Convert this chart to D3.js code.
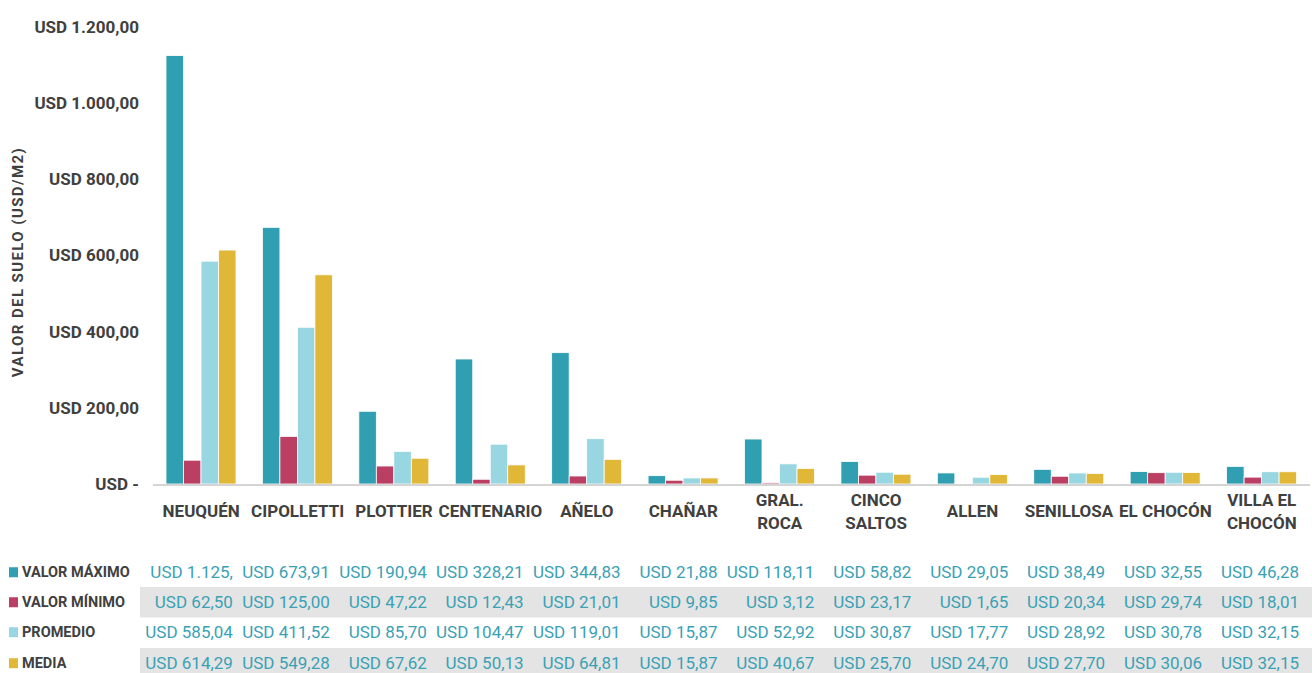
<!DOCTYPE html>
<html>
<head>
<meta charset="utf-8">
<script src="https://cdn.jsdelivr.net/npm/d3@7"></script>
<style>
  body { margin: 0; background: #fff; }
  svg { display: block; font-family: Roboto, "Open Sans", sans-serif; }
</style>
</head>
<body>
<div id="chart"></div>
<script>
// Data
const categories = ["NEUQUÉN", "CIPOLLETTI", "PLOTTIER", "CENTENARIO", "AÑELO", "CHAÑAR",
    "GRAL. ROCA", "CINCO SALTOS", "ALLEN", "SENILLOSA", "EL CHOCÓN", "VILLA EL CHOCÓN"];
const categoryLines = [["NEUQUÉN"], ["CIPOLLETTI"], ["PLOTTIER"], ["CENTENARIO"], ["AÑELO"], ["CHAÑAR"],
    ["GRAL.", "ROCA"], ["CINCO", "SALTOS"], ["ALLEN"], ["SENILLOSA"], ["EL CHOCÓN"], ["VILLA EL", "CHOCÓN"]];
const seriesNames = ["VALOR MÁXIMO", "VALOR MÍNIMO", "PROMEDIO", "MEDIA"];
const valorMaximo = [1125.00, 673.91, 190.94, 328.21, 344.83, 21.88, 118.11, 58.82, 29.05, 38.49, 32.55, 46.28];
const valorMinimo = [62.50, 125.00, 47.22, 12.43, 21.01, 9.85, 3.12, 23.17, 1.65, 20.34, 29.74, 18.01];
const promedio = [585.04, 411.52, 85.70, 104.47, 119.01, 15.87, 52.92, 30.87, 17.77, 28.92, 30.78, 32.15];
const media = [614.29, 549.28, 67.62, 50.13, 64.81, 15.87, 40.67, 25.70, 24.70, 27.70, 30.06, 32.15];
const yTicks = [0, 200, 400, 600, 800, 1000, 1200];
const colors = ["#2f9fb1", "#bb3e63", "#98d6e1", "#e1b737"];

const seriesValues = [valorMaximo, valorMinimo, promedio, media];

const W = 1312, H = 673;
const locale = d3.formatLocale({ decimal: ",", thousands: ".", grouping: [3], currency: ["USD ", ""] });
const fmt = locale.format("$,.2f");
const fmtTick = v => v === 0 ? "USD -" : fmt(v);

const svg = d3.select("#chart").append("svg")
    .attr("width", W)
    .attr("height", H);

// Scales
const x = d3.scaleBand().domain(categories).range([153, 1310]);
const x1 = d3.scaleBand().domain(seriesNames).range([13, 83]);
const y = d3.scaleLinear().domain([0, 1200]).range([484, 27]);
// table columns sit a bit off the plot bands
const xt = d3.scaleBand().domain(categories).range([136, 1299]);

// Y axis labels (no line)
const yAxis = svg.append("g")
    .attr("transform", "translate(139,0)")
    .call(d3.axisLeft(y).tickValues(yTicks).tickSize(0).tickPadding(0).tickFormat(fmtTick));
yAxis.select(".domain").remove();
yAxis.selectAll("text")
    .attr("fill", "#404040")
    .style("font-size", "17px")
    .style("font-weight", "bold")
    .style("font-family", "Roboto, sans-serif");

svg.append("text")
    .attr("transform", "translate(23,262) rotate(-90)")
    .attr("text-anchor", "middle")
    .attr("fill", "#404040")
    .style("font-size", "15px")
    .style("letter-spacing", "1.4px")
    .style("font-weight", "bold")
    .text("VALOR DEL SUELO (USD/M2)");

// Bars
const groups = svg.append("g").selectAll("g")
    .data(categories)
    .join("g")
    .attr("transform", d => `translate(${x(d)},0)`);

groups.selectAll("rect")
    .data((d, i) => seriesNames.map((s, j) => ({ s, j, v: seriesValues[j][i] })))
    .join("rect")
    .attr("x", d => x1(d.s))
    .attr("width", x1.bandwidth())
    .attr("y", d => y(d.v))
    .attr("height", d => y(0) - y(d.v))
    .attr("fill", d => colors[d.j])
    .attr("stroke", "#fff")
    .attr("stroke-width", 0.8);

// Baseline
svg.append("line")
    .attr("x1", 153).attr("x2", 1310)
    .attr("y1", y(0) + 1).attr("y2", y(0) + 1)
    .attr("stroke", "#d4d4d4")
    .attr("stroke-width", 2);

// Category labels
const xl = svg.append("g").selectAll("text")
    .data(categories)
    .join("text")
    .attr("x", d => x(d) + x.bandwidth() / 2)
    .attr("text-anchor", "middle")
    .attr("fill", "#404040")
    .style("font-size", "17px")
    .style("font-weight", "bold");
xl.each(function (d, i) {
    const lines = categoryLines[i];
    const start = lines.length === 1 ? 517 : 506;
    d3.select(this).selectAll("tspan")
        .data(lines)
        .join("tspan")
        .attr("x", x(d) + x.bandwidth() / 2)
        .attr("y", (l, k) => start + k * 23)
        .text(l => l);
});

// Data table
const rowTop = [557, 587, 617, 648];
const rowH = 30.5;
const table = svg.append("g");
seriesNames.forEach((s, j) => {
    const cy = rowTop[j] + rowH / 2;
    if (j % 2 === 1) {
        table.append("rect")
            .attr("x", 140).attr("y", rowTop[j])
            .attr("width", W - 140).attr("height", rowH)
            .attr("fill", "#e4e4e4");
    }
    table.append("rect")
        .attr("x", 9).attr("y", cy - 5)
        .attr("width", 9).attr("height", 10)
        .attr("fill", colors[j]);
    table.append("text")
        .attr("x", 22).attr("y", cy)
        .attr("dy", "0.36em")
        .attr("fill", "#404040")
        .style("font-size", "14.5px")
        .style("font-weight", "bold")
        .text(s);
    table.selectAll(null)
        .data(categories)
        .join("text")
        .attr("x", d => xt(d) + xt.bandwidth())
        .attr("y", cy)
        .attr("dy", "0.36em")
        .attr("text-anchor", "end")
        .attr("fill", "#3aa1b4")
        .style("font-size", "17px")
        .text((d, i) => fmt(seriesValues[j][i]))
        .each(function () {
            // cells too narrow get cut, as in the source sheet
            const t = d3.select(this);
            let s = t.text();
            while (this.getComputedTextLength() > 92 && s.length > 1) {
                s = s.slice(0, -1);
                t.text(s);
            }
        });
});
</script>
</body>
</html>
